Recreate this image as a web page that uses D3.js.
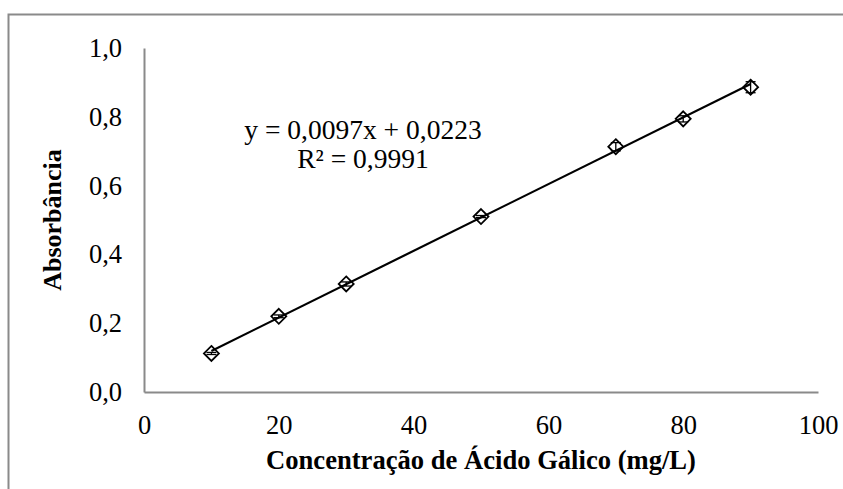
<!DOCTYPE html>
<html>
<head>
<meta charset="utf-8">
<script src="https://cdn.jsdelivr.net/npm/d3@7"></script>
<style>
  body { margin: 0; background: #fff; }
  svg { display: block; font-family: 'Liberation Serif', 'Times New Roman', serif; }
</style>
</head>
<body>
<div id="chart"></div>
<script>
// data
const concentrations = [10, 20, 30, 50, 70, 80, 90];
const absorbance = [0.112, 0.220, 0.314, 0.510, 0.713, 0.794, 0.886];
const errors = [0.003, 0.004, 0.006, 0.003, 0.012, 0.009, 0.016];
const xTicks = [0, 20, 40, 60, 80, 100];
const yTicks = [0, 0.2, 0.4, 0.6, 0.8, 1.0];
const fitSlope = 0.0097;
const fitIntercept = 0.0223;
const fitLines = ['y = 0,0097x + 0,0223', 'R² = 0,9991'];

const width = 843;
const height = 489;
const margin = { top: 48, right: 25, bottom: 97, left: 144 };
const gray = '#8a8a8a';
const fmt = d => d3.format('.1f')(d).replace('.', ',');

const points = concentrations.map((x, i) => ({ x, y: absorbance[i], e: errors[i] }));

const scaleX = d3.scaleLinear().domain([0, 100]).range([margin.left, width - margin.right]);
const scaleY = d3.scaleLinear().domain([0, 1]).range([height - margin.bottom, margin.top]);

const $svg = d3.select('#chart').append('svg')
  .attr('width', width)
  .attr('height', height);

// chart frame (runs off the right and bottom edges)
$svg.append('rect')
  .attr('x', 8.5)
  .attr('y', 14.5)
  .attr('width', width + 10)
  .attr('height', height + 10)
  .attr('fill', 'none')
  .attr('stroke', gray)
  .attr('stroke-width', 2);

// axes
const $xAxis = $svg.append('g')
  .attr('transform', `translate(0, ${scaleY(0)})`)
  .call(d3.axisBottom(scaleX).tickValues(xTicks).tickSize(0).tickPadding(24));
const $yAxis = $svg.append('g')
  .attr('transform', `translate(${scaleX(0)}, 0)`)
  .call(d3.axisLeft(scaleY).tickValues(yTicks).tickFormat(fmt).tickSize(0).tickPadding(22));

[$xAxis, $yAxis].forEach($a => {
  $a.select('.domain').attr('stroke', gray).attr('stroke-width', 2);
  $a.selectAll('text')
    .attr('fill', '#000')
    .style('font-family', "'Liberation Serif', serif")
    .style('font-size', '26.5px');
});
$xAxis.selectAll('text').attr('dy', '0.68em');

// axis titles
$svg.append('text')
  .attr('x', (scaleX(0) + scaleX(100)) / 2)
  .attr('y', 469)
  .attr('text-anchor', 'middle')
  .style('font-size', '26.6px')
  .style('font-weight', 'bold')
  .text('Concentração de Ácido Gálico (mg/L)');

$svg.append('text')
  .attr('transform', `translate(61, ${(scaleY(0) + scaleY(1)) / 2}) rotate(-90)`)
  .attr('text-anchor', 'middle')
  .style('font-size', '26px')
  .style('font-weight', 'bold')
  .text('Absorbância');

// linear fit
const fitX = d3.extent(concentrations);
$svg.append('line')
  .attr('x1', scaleX(fitX[0]))
  .attr('y1', scaleY(fitSlope * fitX[0] + fitIntercept))
  .attr('x2', scaleX(fitX[1]))
  .attr('y2', scaleY(fitSlope * fitX[1] + fitIntercept))
  .attr('stroke', '#000')
  .attr('stroke-width', 2.2);

// error bars
const $err = $svg.append('g').attr('stroke', '#000').attr('stroke-width', 1.3);
$err.selectAll('.bar')
  .data(points)
  .join('line')
  .attr('class', 'bar')
  .attr('x1', d => scaleX(d.x))
  .attr('x2', d => scaleX(d.x))
  .attr('y1', d => scaleY(d.y - d.e))
  .attr('y2', d => scaleY(d.y + d.e));
[-1, 1].forEach((sign, k) => {
  $err.selectAll(`.cap-${k}`)
    .data(points)
    .join('line')
    .attr('class', `cap-${k}`)
    .attr('x1', d => scaleX(d.x) - 5)
    .attr('x2', d => scaleX(d.x) + 5)
    .attr('y1', d => scaleY(d.y + sign * d.e))
    .attr('y2', d => scaleY(d.y + sign * d.e));
});

// diamond markers
const r = 7.5;
$svg.append('g').selectAll('path')
  .data(points)
  .join('path')
  .attr('d', d => {
    const cx = scaleX(d.x);
    const cy = scaleY(d.y);
    return `M${cx},${cy - r}L${cx + r},${cy}L${cx},${cy + r}L${cx - r},${cy}Z`;
  })
  .attr('fill', 'none')
  .attr('stroke', '#000')
  .attr('stroke-width', 1.8);

// equation label
$svg.append('g').selectAll('text')
  .data(fitLines)
  .join('text')
  .attr('x', 363)
  .attr('y', (d, i) => 139 + i * 29)
  .attr('text-anchor', 'middle')
  .style('font-size', '27.5px')
  .text(d => d);
</script>
</body>
</html>
